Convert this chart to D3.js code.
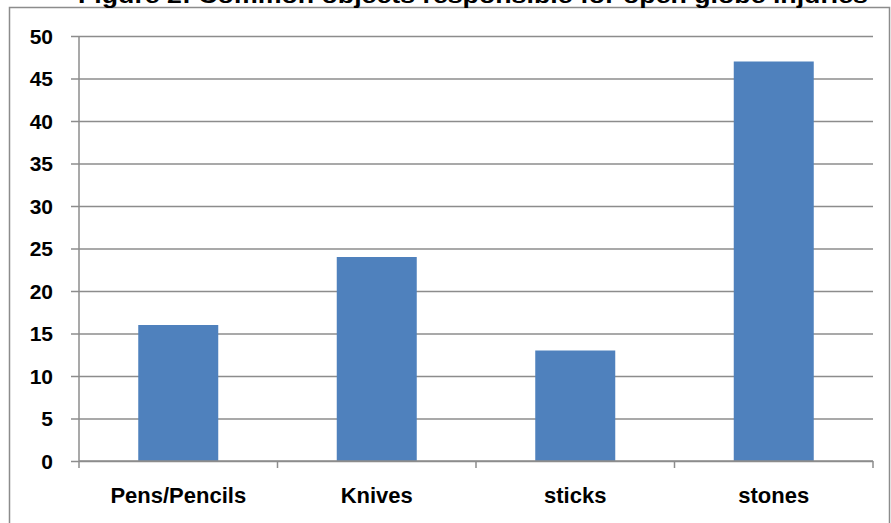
<!DOCTYPE html>
<html>
<head>
<meta charset="utf-8">
<script src="https://cdn.jsdelivr.net/npm/d3@7"></script>
<style>
  body { margin: 0; background: #fff; }
  text { font-family: "Liberation Sans", Arial, sans-serif; font-weight: bold; fill: #000; }
</style>
</head>
<body>
<div id="chart"></div>
<script>
// categories and values
const categories = ["Pens/Pencils", "Knives", "sticks", "stones"];
const counts = [16, 24, 13, 47];
const yTicks = [0, 5, 10, 15, 20, 25, 30, 35, 40, 45, 50];
const title = "Figure 2: Common objects responsible for open globe injuries";

const W = 891, H = 523;
const margin = {top: 36, right: 18, bottom: 62, left: 79};
const width = W - margin.left - margin.right,
    height = H - margin.top - margin.bottom;

const svg = d3.select("#chart")
    .append("svg")
        .attr("width", W)
        .attr("height", H);

// outer chart frame (runs off the right and bottom)
svg.append("rect")
    .attr("x", 9.5).attr("y", 7.5)
    .attr("width", 880).attr("height", 540)
    .attr("fill", "none")
    .attr("stroke", "#8c8c8c")
    .attr("stroke-width", 1.5);

// title, sits at the very top edge as in the original
svg.append("text")
    .attr("x", 473)
    .attr("y", 3)
    .style("text-anchor", "middle")
    .style("font-size", "22px")
    .attr("textLength", 790)
    .attr("lengthAdjust", "spacingAndGlyphs")
    .text(title);

const g = svg.append("g")
    .attr("transform", `translate(${margin.left},${margin.top})`);

// category boundaries
const xb = d3.scaleBand().domain(categories).range([0, width]).padding(0);

const y = d3.scaleLinear()
    .domain([0, 50])
    .range([height, 0]);

// gridlines + left ticks
g.append("g")
    .call(d3.axisLeft(y).tickValues(yTicks).tickFormat(""))
    .call(s => s.select(".domain").remove())
    .call(s => s.selectAll("line")
        .attr("x1", -8).attr("x2", width)
        .attr("stroke", "#8c8c8c").attr("stroke-width", 1.5));

// y labels
g.append("g")
    .selectAll("text")
    .data(yTicks)
    .enter()
    .append("text")
        .attr("x", -26)
        .attr("y", d => y(d))
        .attr("dy", "0.36em")
        .style("text-anchor", "end")
        .style("font-size", "21px")
        .text(d => d);

// bars
const bw = 80;
g.selectAll(".bar")
    .data(categories.map((c, i) => ({name: c, count: counts[i]})))
    .enter()
    .append("rect")
        .attr("x", d => xb(d.name) + xb.bandwidth() / 2 - bw / 2)
        .attr("y", d => y(d.count))
        .attr("width", bw)
        .attr("height", d => height - y(d.count))
        .attr("fill", "#4f81bd");

// y axis line
g.append("line")
    .attr("x1", 0).attr("x2", 0)
    .attr("y1", 0).attr("y2", height + 7)
    .attr("stroke", "#8c8c8c").attr("stroke-width", 1.5);

// x axis line + category boundary ticks
g.append("line")
    .attr("x1", 0).attr("x2", width)
    .attr("y1", height).attr("y2", height)
    .attr("stroke", "#8c8c8c").attr("stroke-width", 1.5);
g.selectAll(".xtick")
    .data(categories)
    .enter()
    .append("line")
        .attr("x1", d => xb(d) + xb.bandwidth())
        .attr("x2", d => xb(d) + xb.bandwidth())
        .attr("y1", height).attr("y2", height + 7)
        .attr("stroke", "#8c8c8c").attr("stroke-width", 1.5);

// category labels
g.selectAll(".xlab")
    .data(categories)
    .enter()
    .append("text")
        .attr("x", d => xb(d) + xb.bandwidth() / 2)
        .attr("y", height + 42)
        .style("text-anchor", "middle")
        .style("font-size", "22px")
        .text(d => d);
</script>
</body>
</html>
